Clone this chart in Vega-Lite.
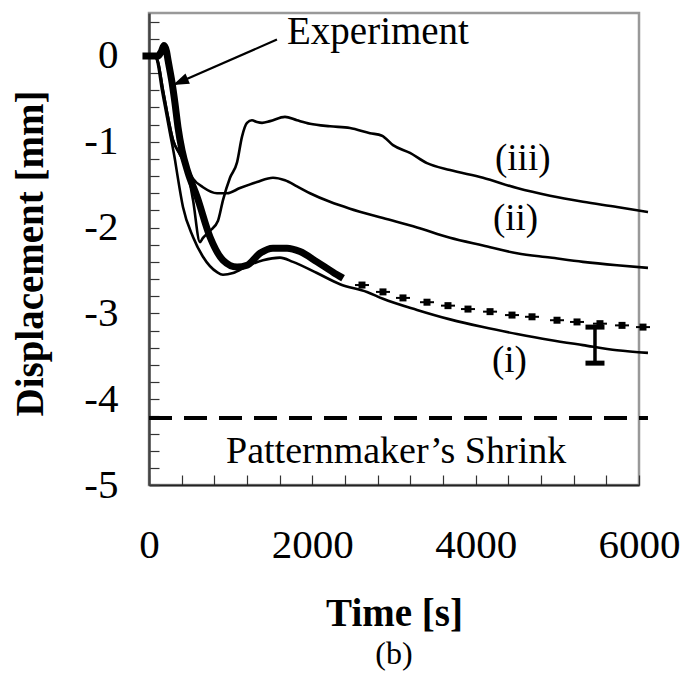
{
  "$schema": "https://vega.github.io/schema/vega-lite/v6.json",
  "width": 490,
  "height": 472,
  "autosize": {"type": "none"},
  "padding": {"left": 149, "top": 13, "right": 44, "bottom": 190},
  "background": "white",
  "config": {"view": {"stroke": "#999", "strokeWidth": 2.5}, "font": "Liberation Serif"},
  "title": {"text": "(b)", "orient": "bottom", "font": "Liberation Serif", "fontSize": 32, "fontWeight": "normal", "color": "black", "offset": 6, "anchor": "middle"},
  "datasets": {
    "sim": [
      {"s": "i", "t": 0, "d": 0}, {"s": "i", "t": 73, "d": 0}, {"s": "i", "t": 98, "d": -0.05}, {"s": "i", "t": 159, "d": -0.40}, {"s": "i", "t": 196, "d": -0.59}, {"s": "i", "t": 257, "d": -0.90}, {"s": "i", "t": 318, "d": -1.21}, {"s": "i", "t": 343, "d": -1.36}, {"s": "i", "t": 416, "d": -1.76}, {"s": "i", "t": 539, "d": -2.11}, {"s": "i", "t": 661, "d": -2.34}, {"s": "i", "t": 833, "d": -2.52}, {"s": "i", "t": 906, "d": -2.55}, {"s": "i", "t": 1029, "d": -2.53}, {"s": "i", "t": 1200, "d": -2.45}, {"s": "i", "t": 1396, "d": -2.38}, {"s": "i", "t": 1604, "d": -2.35}, {"s": "i", "t": 1763, "d": -2.40}, {"s": "i", "t": 2057, "d": -2.53}, {"s": "i", "t": 2339, "d": -2.66}, {"s": "i", "t": 2669, "d": -2.75}, {"s": "i", "t": 2865, "d": -2.83}, {"s": "i", "t": 3282, "d": -2.96}, {"s": "i", "t": 3686, "d": -3.07}, {"s": "i", "t": 4090, "d": -3.16}, {"s": "i", "t": 4506, "d": -3.24}, {"s": "i", "t": 4910, "d": -3.31}, {"s": "i", "t": 5314, "d": -3.37}, {"s": "i", "t": 5731, "d": -3.43}, {"s": "i", "t": 6110, "d": -3.46},
      {"s": "ii", "t": 0, "d": 0}, {"s": "ii", "t": 73, "d": 0}, {"s": "ii", "t": 110, "d": -0.07}, {"s": "ii", "t": 171, "d": -0.40}, {"s": "ii", "t": 220, "d": -0.65}, {"s": "ii", "t": 294, "d": -0.98}, {"s": "ii", "t": 380, "d": -1.15}, {"s": "ii", "t": 465, "d": -1.30}, {"s": "ii", "t": 539, "d": -1.43}, {"s": "ii", "t": 661, "d": -1.53}, {"s": "ii", "t": 833, "d": -1.60}, {"s": "ii", "t": 955, "d": -1.60}, {"s": "ii", "t": 1114, "d": -1.54}, {"s": "ii", "t": 1322, "d": -1.47}, {"s": "ii", "t": 1518, "d": -1.42}, {"s": "ii", "t": 1665, "d": -1.45}, {"s": "ii", "t": 1812, "d": -1.52}, {"s": "ii", "t": 1971, "d": -1.60}, {"s": "ii", "t": 2216, "d": -1.70}, {"s": "ii", "t": 2461, "d": -1.78}, {"s": "ii", "t": 2865, "d": -1.89}, {"s": "ii", "t": 3282, "d": -2.00}, {"s": "ii", "t": 3686, "d": -2.12}, {"s": "ii", "t": 4090, "d": -2.21}, {"s": "ii", "t": 4506, "d": -2.30}, {"s": "ii", "t": 4910, "d": -2.35}, {"s": "ii", "t": 5314, "d": -2.40}, {"s": "ii", "t": 5731, "d": -2.44}, {"s": "ii", "t": 6110, "d": -2.47},
      {"s": "iii", "t": 0, "d": 0}, {"s": "iii", "t": 73, "d": 0}, {"s": "iii", "t": 110, "d": -0.07}, {"s": "iii", "t": 171, "d": -0.40}, {"s": "iii", "t": 220, "d": -0.65}, {"s": "iii", "t": 294, "d": -0.98}, {"s": "iii", "t": 380, "d": -1.15}, {"s": "iii", "t": 465, "d": -1.32}, {"s": "iii", "t": 539, "d": -1.68}, {"s": "iii", "t": 624, "d": -2.17}, {"s": "iii", "t": 661, "d": -2.12}, {"s": "iii", "t": 747, "d": -2.04}, {"s": "iii", "t": 845, "d": -1.92}, {"s": "iii", "t": 906, "d": -1.68}, {"s": "iii", "t": 992, "d": -1.42}, {"s": "iii", "t": 1078, "d": -1.24}, {"s": "iii", "t": 1139, "d": -0.94}, {"s": "iii", "t": 1200, "d": -0.78}, {"s": "iii", "t": 1261, "d": -0.75}, {"s": "iii", "t": 1322, "d": -0.77}, {"s": "iii", "t": 1384, "d": -0.78}, {"s": "iii", "t": 1482, "d": -0.76}, {"s": "iii", "t": 1665, "d": -0.71}, {"s": "iii", "t": 1812, "d": -0.75}, {"s": "iii", "t": 1971, "d": -0.79}, {"s": "iii", "t": 2216, "d": -0.82}, {"s": "iii", "t": 2461, "d": -0.84}, {"s": "iii", "t": 2706, "d": -0.90}, {"s": "iii", "t": 2853, "d": -0.93}, {"s": "iii", "t": 2988, "d": -1.04}, {"s": "iii", "t": 3196, "d": -1.13}, {"s": "iii", "t": 3404, "d": -1.25}, {"s": "iii", "t": 3686, "d": -1.33}, {"s": "iii", "t": 4090, "d": -1.42}, {"s": "iii", "t": 4506, "d": -1.54}, {"s": "iii", "t": 4910, "d": -1.63}, {"s": "iii", "t": 5314, "d": -1.70}, {"s": "iii", "t": 5731, "d": -1.76}, {"s": "iii", "t": 6110, "d": -1.82}
    ],
    "exp": [
      {"t": -80, "d": 0}, {"t": 110, "d": 0}, {"t": 150, "d": 0.05}, {"t": 184, "d": 0.12}, {"t": 215, "d": 0.05}, {"t": 233, "d": -0.05}, {"t": 282, "d": -0.31}, {"t": 318, "d": -0.55}, {"t": 355, "d": -0.83}, {"t": 404, "d": -1.10}, {"t": 478, "d": -1.36}, {"t": 588, "d": -1.64}, {"t": 747, "d": -2.11}, {"t": 906, "d": -2.38}, {"t": 1078, "d": -2.46}, {"t": 1200, "d": -2.44}, {"t": 1359, "d": -2.30}, {"t": 1518, "d": -2.24}, {"t": 1690, "d": -2.24}, {"t": 1849, "d": -2.28}, {"t": 2057, "d": -2.40}, {"t": 2253, "d": -2.52}, {"t": 2376, "d": -2.59}
    ],
    "expm": [
      {"t": 2608, "d": -2.67}, {"t": 2865, "d": -2.75}, {"t": 3110, "d": -2.82}, {"t": 3404, "d": -2.87}, {"t": 3661, "d": -2.91}, {"t": 3906, "d": -2.95}, {"t": 4176, "d": -2.98}, {"t": 4445, "d": -3.02}, {"t": 4690, "d": -3.04}, {"t": 4996, "d": -3.08}, {"t": 5241, "d": -3.10}, {"t": 5522, "d": -3.12}, {"t": 5792, "d": -3.14}, {"t": 6049, "d": -3.16}
    ],
    "err": [{"t": 5461, "d": -3.16, "d2": -3.58}],
    "caps": [{"t": 5461, "d": -3.16}, {"t": 5461, "d": -3.58}],
    "shrink": [{"t": 0, "d": -4.22, "t2": 6110}],
    "arrow": [{"t": 1567, "d": 0.19, "t2": 294, "d2": -0.34}],
    "head": [{"t": 294, "d": -0.34}],
    "labels": [
      {"t": 1690, "d": 0.14, "label": "Experiment", "fs": 39},
      {"t": 4237, "d": -1.33, "label": "(iii)", "fs": 37},
      {"t": 4212, "d": -2.03, "label": "(ii)", "fs": 37},
      {"t": 4200, "d": -3.68, "label": "(i)", "fs": 37},
      {"t": 943, "d": -4.74, "label": "Patternmaker’s Shrink", "fs": 38}
    ]
  },
  "encoding": {
    "x": {
      "field": "t", "type": "quantitative",
      "scale": {"domain": [0, 6000], "nice": false, "zero": false},
      "axis": {
        "values": [0, 400, 800, 1200, 1600, 2000, 2400, 2800, 3200, 3600, 4000, 4400, 4800, 5200, 5600, 6000],
        "format": "d",
        "labelExpr": "datum.value % 2000 === 0 ? datum.label : ''",
        "tickSize": -10, "tickColor": "#333", "tickWidth": 1.2,
        "domainColor": "#222", "domainWidth": 2,
        "labelFont": "Liberation Serif", "labelFontSize": 41, "labelColor": "black",
        "labelPadding": 82, "labelBaseline": "alphabetic", "labelOverlap": false, "labelFlush": false, "labelBound": false,
        "grid": false,
        "title": "Time [s]", "titleFont": "Liberation Serif", "titleFontSize": 39, "titleFontWeight": "bold", "titleColor": "black",
        "titleY": 140, "titleBaseline": "alphabetic"
      }
    },
    "y": {
      "field": "d", "type": "quantitative",
      "scale": {"domain": [-5, 0.5], "nice": false, "zero": false},
      "axis": {
        "values": [-5, -4.8, -4.6, -4.4, -4.2, -4, -3.8, -3.6, -3.4, -3.2, -3, -2.8, -2.6, -2.4, -2.2, -2, -1.8, -1.6, -1.4, -1.2, -1, -0.8, -0.6, -0.4, -0.2, 0, 0.2, 0.4],
        "labelExpr": "abs(datum.value - round(datum.value)) < 0.01 ? '' + round(datum.value) : ''",
        "tickSize": -10, "tickColor": "#333", "tickWidth": 1.2,
        "domainColor": "#444", "domainWidth": 2.5,
        "labelFont": "Liberation Serif", "labelFontSize": 41, "labelColor": "black",
        "labelPadding": 41, "labelOverlap": false, "labelBound": false, "labelFlush": false,
        "grid": false,
        "title": "Displacement [mm]", "titleFont": "Liberation Serif", "titleFontSize": 39, "titleFontWeight": "bold", "titleColor": "black",
        "titleX": -107, "titleY": 240, "titleAngle": -90, "titleAlign": "center", "titleBaseline": "alphabetic"
      }
    }
  },
  "layer": [
    {
      "data": {"name": "shrink"},
      "mark": {"type": "rule", "color": "black", "strokeWidth": 4, "strokeDash": [23, 12], "clip": false},
      "encoding": {"x2": {"field": "t2"}}
    },
    {
      "data": {"name": "sim"},
      "mark": {"type": "line", "color": "black", "strokeWidth": 2.6, "interpolate": "monotone", "clip": false},
      "encoding": {"detail": {"field": "s"}}
    },
    {
      "data": {"name": "exp"},
      "mark": {"type": "line", "color": "black", "strokeWidth": 7, "interpolate": "monotone", "strokeJoin": "round", "clip": false},
      "encoding": {}
    },
    {
      "data": {"name": "expm"},
      "mark": {"type": "point", "shape": "square", "filled": true, "color": "black", "size": 49, "opacity": 1, "clip": false},
      "encoding": {}
    },
    {
      "data": {"name": "expm"},
      "mark": {"type": "point", "shape": "M-1,0L1,0", "filled": false, "color": "black", "strokeWidth": 2, "size": 196, "opacity": 1, "clip": false},
      "encoding": {}
    },
    {
      "data": {"name": "err"},
      "mark": {"type": "rule", "color": "black", "strokeWidth": 3.5},
      "encoding": {"y2": {"field": "d2"}}
    },
    {
      "data": {"name": "caps"},
      "mark": {"type": "point", "shape": "M-1,0L1,0", "filled": false, "color": "black", "strokeWidth": 5, "size": 361, "opacity": 1},
      "encoding": {}
    },
    {
      "data": {"name": "arrow"},
      "mark": {"type": "rule", "color": "black", "strokeWidth": 2.2},
      "encoding": {"x2": {"field": "t2"}, "y2": {"field": "d2"}}
    },
    {
      "data": {"name": "head"},
      "mark": {"type": "point", "shape": "M0,0L-0.7,2L0.7,2Z", "filled": true, "color": "black", "size": 256, "angle": 246.6, "opacity": 1},
      "encoding": {}
    },
    {
      "data": {"name": "labels"},
      "mark": {"type": "text", "font": "Liberation Serif", "align": "left", "baseline": "alphabetic", "color": "black", "clip": false},
      "encoding": {"text": {"field": "label"}, "size": {"field": "fs", "type": "quantitative", "scale": null}}
    }
  ]
}
